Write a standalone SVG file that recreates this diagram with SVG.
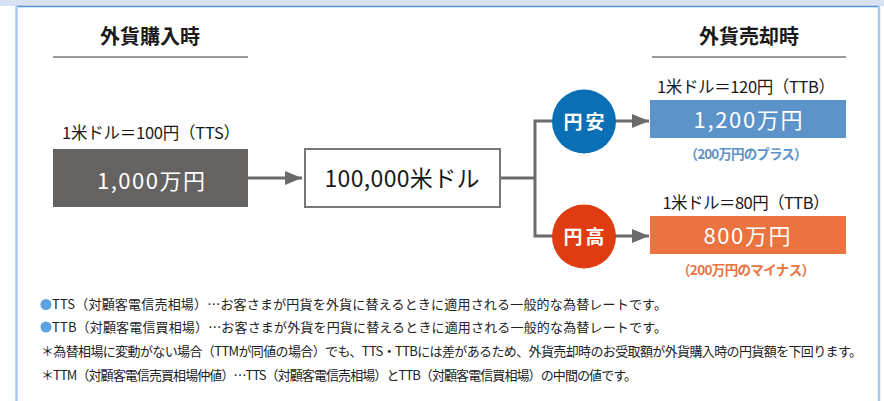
<svg xmlns="http://www.w3.org/2000/svg" width="884" height="401" viewBox="0 0 884 401">
<defs>
<style>
text{font-family:"Noto Sans CJK JP","Noto Sans",sans-serif;}
.h{font-size:20px;font-weight:700;fill:#1a1a1a;text-anchor:middle;}
.rate{font-size:16.5px;fill:#1a1a1a;text-anchor:middle;}
.amt{font-size:22px;fill:#ffffff;text-anchor:middle;}
.note{font-size:13px;fill:#222;}
.sub{font-size:13.5px;font-weight:700;text-anchor:middle;}
.circ{font-size:19px;font-weight:700;fill:#fff;text-anchor:middle;letter-spacing:3px;}
.ln{stroke:#6b6b6b;stroke-width:3;fill:none;}
.uline{stroke:#7a7a7a;stroke-width:1.5;}
</style>
<marker id="ah" markerWidth="17" markerHeight="14" refX="17" refY="7" orient="auto" markerUnits="userSpaceOnUse">
<path d="M0,0 L17,7 L0,14 Z" fill="#6b6b6b"/>
</marker>
</defs>
<rect x="0" y="0" width="884" height="401" fill="#ffffff"/>
<rect x="0" y="0" width="884" height="6" fill="#d6e2f2"/>
<line x1="16" y1="6.5" x2="879" y2="6.5" stroke="#4d92dc" stroke-width="1.5"/>
<line x1="16.5" y1="6" x2="16.5" y2="401" stroke="#a9c9ee" stroke-width="2.5"/>
<line x1="879" y1="6" x2="879" y2="401" stroke="#a9c9ee" stroke-width="2.5"/>

<g id="heading-buy">
<text class="h" x="150" y="44">外貨購入時</text>
<line class="uline" x1="53" y1="57" x2="248" y2="57"/>
</g>
<g id="heading-sell">
<text class="h" x="749" y="44">外貨売却時</text>
<line class="uline" x1="652" y1="57" x2="846" y2="57"/>
</g>

<g id="connectors">
<line class="ln" x1="248" y1="178" x2="302" y2="178" marker-end="url(#ah)"/>
<polyline class="ln" points="501,178 535,178"/>
<polyline class="ln" points="553,121 535,121 535,236 553,236"/>
<line class="ln" x1="615" y1="121" x2="649" y2="121" marker-end="url(#ah)"/>
<line class="ln" x1="615" y1="236" x2="649" y2="236" marker-end="url(#ah)"/>
</g>

<g id="buy-node">
<text class="rate" x="151" y="139" textLength="178">1米ドル＝100円（TTS）</text>
<rect x="53" y="149" width="195" height="58" fill="#656262"/>
<text class="amt" x="151" y="189" textLength="108">1,000万円</text>
</g>

<g id="usd-node">
<rect x="305" y="149" width="195" height="58" fill="#ffffff" stroke="#777" stroke-width="2"/>
<text x="402" y="187" textLength="155" style="font-size:23px;fill:#1a1a1a;text-anchor:middle;">100,000米ドル</text>
</g>

<g id="yen-weak">
<circle cx="584" cy="121.5" r="32" fill="#0b6fb6"/>
<text class="circ" x="585.5" y="128.5">円安</text>
</g>
<g id="yen-strong">
<circle cx="584" cy="236.5" r="32" fill="#e03c12"/>
<text class="circ" x="585.5" y="243.5">円高</text>
</g>

<g id="result-plus">
<text class="rate" x="746" y="93" textLength="178">1米ドル＝120円（TTB）</text>
<rect x="650" y="100" width="196" height="38" fill="#5c93c9"/>
<text class="amt" x="748" y="128" textLength="109">1,200万円</text>
<text class="sub" x="746" y="159" fill="#5c93c9" textLength="123">（200万円のプラス）</text>
</g>

<g id="result-minus">
<text class="rate" x="746" y="209" textLength="167">1米ドル＝80円（TTB）</text>
<rect x="650" y="216" width="196" height="38" fill="#eb7340"/>
<text class="amt" x="747" y="244" textLength="87">800万円</text>
<text class="sub" x="746" y="275" fill="#eb7340" textLength="138">（200万円のマイナス）</text>
</g>

<g id="notes">
<circle cx="46" cy="304.5" r="5.5" fill="#5fa2e2"/>
<text class="note" x="52" y="309" textLength="615">TTS（対顧客電信売相場）…お客さまが円貨を外貨に替えるときに適用される一般的な為替レートです。</text>
<circle cx="46" cy="327" r="5.5" fill="#5fa2e2"/>
<text class="note" x="52" y="331.5" textLength="615">TTB（対顧客電信買相場）…お客さまが外貨を円貨に替えるときに適用される一般的な為替レートです。</text>
<text class="note" x="41" y="356" textLength="821">＊為替相場に変動がない場合（TTMが同値の場合）でも、TTS・TTBには差があるため、外貨売却時のお受取額が外貨購入時の円貨額を下回ります。</text>
<text class="note" x="41" y="380" textLength="596">＊TTM（対顧客電信売買相場仲値）…TTS（対顧客電信売相場）とTTB（対顧客電信買相場）の中間の値です。</text>
</g>
</svg>
